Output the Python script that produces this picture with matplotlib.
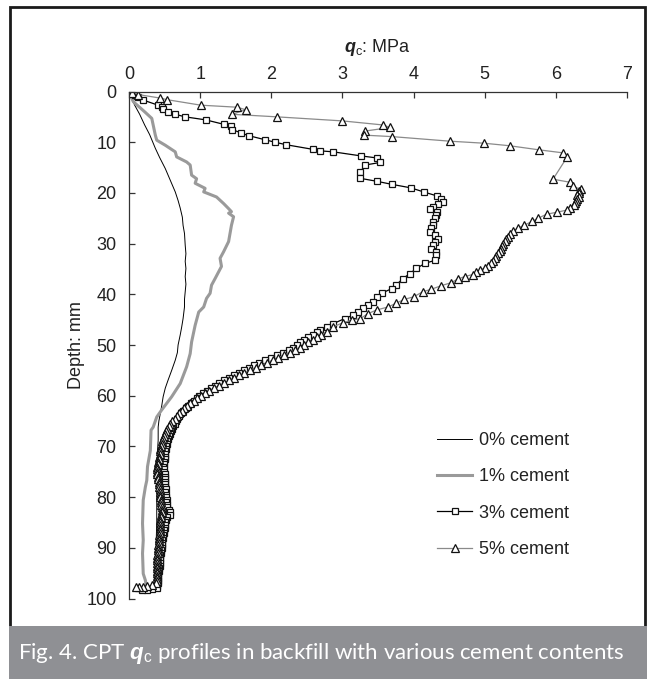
#!/usr/bin/env python
# -*- coding: utf-8 -*-

# -----------------------------------------------------------------------------
# Imports
# -----------------------------------------------------------------------------

import matplotlib
matplotlib.use("Agg")
import matplotlib.pyplot as plt
from matplotlib.patches import Rectangle

plt.rcParams['font.family'] = ['Liberation Sans', 'DejaVu Sans']
plt.rcParams['mathtext.fontset'] = 'custom'
plt.rcParams['mathtext.rm'] = 'Liberation Sans'
plt.rcParams['mathtext.it'] = 'Liberation Sans:italic'
plt.rcParams['mathtext.bf'] = 'Liberation Sans:bold'
plt.rcParams['mathtext.bfit'] = 'Liberation Sans:italic:bold'

# -----------------------------------------------------------------------------
# Data: depth in mm, q_c in MPa
# -----------------------------------------------------------------------------

labels = ["0% cement", "1% cement", "3% cement", "5% cement"]

depth0 = [0.0, 1.5, 2.7, 4.5, 6.6, 8.5, 11.2, 13.0, 15.2, 17.5,
          19.8, 21.5, 23.0, 24.8, 26.4, 28.0, 30.3, 32.0, 33.5, 34.9,
          36.5, 38.0, 39.5, 41.0, 42.5, 44.8, 46.5, 48.0, 50.0, 51.5,
          53.0, 55.0, 56.9, 58.5, 60.2, 62.0, 63.5, 65.0, 66.2, 68.8,
          71.0, 75.0, 80.0, 85.0, 90.0, 95.0, 97.5]
qc0 = [0.00, 0.04, 0.08, 0.15, 0.22, 0.29, 0.37, 0.43, 0.51, 0.58,
       0.65, 0.69, 0.72, 0.75, 0.76, 0.78, 0.79, 0.80, 0.79, 0.80,
       0.79, 0.80, 0.79, 0.78, 0.78, 0.76, 0.74, 0.72, 0.69, 0.68,
       0.65, 0.60, 0.55, 0.51, 0.48, 0.46, 0.44, 0.42, 0.41, 0.41,
       0.40, 0.40, 0.39, 0.39, 0.38, 0.38, 0.37]

depth1 = [0.0, 2.0, 4.0, 5.3, 8.6, 9.6, 10.6, 11.9, 12.9, 13.9,
          14.5, 16.5, 17.2, 18.1, 19.1, 19.8, 20.8, 22.1, 23.1, 23.7,
          24.0, 24.7, 26.4, 29.6, 31.6, 32.9, 34.5, 36.9, 38.2, 39.8,
          40.8, 42.5, 43.5, 46.1, 49.4, 51.7, 54.3, 57.6, 60.2, 62.8,
          64.2, 66.2, 66.8, 70.8, 74.0, 76.7, 78.0, 80.6, 85.2, 88.5,
          91.1, 95.1, 96.4, 97.3]
qc1 = [0.00, 0.06, 0.22, 0.32, 0.37, 0.39, 0.51, 0.65, 0.67, 0.81,
       0.86, 0.88, 0.95, 0.93, 1.07, 1.05, 1.23, 1.33, 1.40, 1.44,
       1.40, 1.47, 1.44, 1.40, 1.33, 1.28, 1.30, 1.21, 1.16, 1.14,
       1.09, 1.05, 0.98, 0.93, 0.88, 0.86, 0.81, 0.72, 0.60, 0.46,
       0.39, 0.34, 0.31, 0.30, 0.26, 0.25, 0.23, 0.20, 0.19, 0.20,
       0.19, 0.20, 0.23, 0.24]

depth3 = [0.0, 0.3, 0.6, 1.0, 1.7, 2.7, 3.0, 3.5, 4.0, 4.5,
          5.0, 5.6, 6.5, 6.9, 7.5, 8.2, 8.7, 9.5, 10.0, 10.5,
          11.4, 11.7, 11.9, 12.7, 13.1, 14.0, 14.5, 15.9, 17.1, 17.7,
          18.3, 19.0, 19.8, 20.6, 21.2, 21.7, 22.2, 22.7, 23.1, 23.7,
          24.3, 25.0, 25.7, 26.4, 27.0, 27.7, 28.3, 29.0, 29.6, 30.3,
          31.0, 31.6, 32.3, 33.3, 33.9, 34.9, 35.9, 36.9, 38.1, 38.9,
          39.8, 40.6, 41.5, 42.2, 42.8, 43.5, 44.1, 44.8, 45.8, 46.4,
          47.1, 47.5, 48.0, 48.5, 49.0, 49.5, 50.0, 50.5, 51.0, 51.5,
          52.0, 52.5, 53.0, 53.5, 54.0, 54.5, 55.0, 55.5, 56.0, 56.5,
          57.0, 57.5, 58.0, 58.5, 59.0, 59.5, 60.0, 60.5, 61.0, 61.5,
          62.0, 62.5, 63.0, 63.5, 64.0, 64.5, 65.0, 65.5, 66.0, 66.5,
          67.0, 67.5, 68.0, 68.5, 69.0, 69.5, 70.0, 70.5, 71.0, 71.5,
          72.0, 72.5, 73.0, 73.5, 74.0, 74.5, 75.0, 75.5, 76.0, 76.5,
          77.0, 77.5, 78.0, 78.5, 79.0, 79.5, 80.0, 80.5, 81.0, 81.5,
          82.0, 82.5, 83.0, 83.5, 84.0, 84.5, 85.0, 85.5, 86.0, 86.5,
          87.0, 87.5, 88.0, 88.5, 89.0, 89.5, 90.0, 90.5, 91.0, 91.5,
          92.0, 92.5, 93.0, 93.5, 94.0, 94.5, 95.0, 95.5, 96.0, 96.5,
          97.0, 97.5, 98.0, 98.2, 98.3, 98.3]
qc3 = [0.00, 0.04, 0.08, 0.13, 0.20, 0.41, 0.46, 0.48, 0.55, 0.65,
       0.79, 1.08, 1.34, 1.44, 1.45, 1.58, 1.68, 1.91, 2.05, 2.21,
       2.58, 2.68, 2.87, 3.26, 3.48, 3.53, 3.32, 3.25, 3.24, 3.48,
       3.69, 3.96, 4.14, 4.33, 4.38, 4.41, 4.35, 4.28, 4.23, 4.33,
       4.31, 4.30, 4.27, 4.28, 4.25, 4.23, 4.30, 4.35, 4.30, 4.28,
       4.25, 4.32, 4.31, 4.30, 4.16, 4.04, 3.95, 3.85, 3.76, 3.69,
       3.55, 3.49, 3.43, 3.36, 3.29, 3.22, 3.15, 3.03, 2.87, 2.78,
       2.68, 2.64, 2.58, 2.52, 2.46, 2.41, 2.36, 2.31, 2.25, 2.17,
       2.08, 2.00, 1.91, 1.83, 1.76, 1.68, 1.61, 1.54, 1.47, 1.40,
       1.34, 1.27, 1.21, 1.15, 1.09, 1.04, 0.99, 0.95, 0.91, 0.87,
       0.83, 0.80, 0.76, 0.73, 0.70, 0.68, 0.66, 0.64, 0.62, 0.60,
       0.59, 0.57, 0.56, 0.55, 0.54, 0.53, 0.52, 0.52, 0.51, 0.51,
       0.50, 0.50, 0.49, 0.49, 0.48, 0.49, 0.49, 0.50, 0.50, 0.50,
       0.51, 0.50, 0.51, 0.52, 0.51, 0.52, 0.52, 0.53, 0.52, 0.53,
       0.54, 0.56, 0.58, 0.57, 0.54, 0.52, 0.51, 0.51, 0.50, 0.49,
       0.49, 0.48, 0.48, 0.47, 0.47, 0.46, 0.46, 0.45, 0.45, 0.44,
       0.44, 0.44, 0.43, 0.43, 0.42, 0.42, 0.41, 0.41, 0.41, 0.41,
       0.41, 0.40, 0.40, 0.33, 0.25, 0.18]

depth5 = [0.0, 0.2, 0.6, 1.3, 1.6, 2.7, 3.1, 3.6, 4.5, 5.0,
          5.8, 6.6, 7.1, 7.8, 8.6, 8.9, 9.8, 10.2, 10.7, 11.5,
          12.1, 12.9, 17.3, 17.9, 18.7, 19.3, 19.7, 20.1, 20.5, 20.9,
          21.3, 21.6, 22.0, 22.4, 23.0, 23.4, 23.8, 24.2, 25.0, 25.6,
          26.4, 26.9, 27.5, 28.2, 28.6, 29.0, 29.5, 30.0, 30.5, 31.0,
          31.5, 31.9, 32.4, 32.9, 33.4, 33.9, 34.4, 34.8, 35.2, 35.7,
          36.1, 36.5, 37.0, 37.7, 38.3, 39.0, 39.5, 40.5, 41.0, 41.8,
          42.5, 43.1, 43.8, 44.8, 45.1, 45.6, 46.4, 47.4, 48.0, 48.5,
          49.0, 49.5, 50.0, 50.5, 51.0, 51.5, 52.0, 52.5, 53.0, 53.5,
          54.0, 54.5, 55.0, 55.5, 56.0, 56.5, 57.0, 57.5, 58.0, 58.5,
          59.0, 59.5, 60.0, 60.5, 61.0, 61.5, 62.0, 62.5, 63.0, 63.5,
          64.0, 64.5, 65.0, 65.5, 66.0, 66.5, 67.0, 67.5, 68.0, 68.5,
          69.0, 69.5, 70.0, 70.5, 71.0, 71.5, 72.0, 72.5, 73.0, 73.5,
          74.0, 74.5, 75.0, 75.5, 76.0, 76.5, 77.0, 77.5, 78.0, 78.5,
          79.0, 79.5, 80.0, 80.5, 81.0, 81.5, 82.0, 82.5, 83.0, 83.5,
          84.0, 84.5, 85.0, 85.5, 86.0, 86.5, 87.0, 87.5, 88.0, 88.5,
          89.0, 89.5, 90.0, 90.5, 91.0, 91.5, 92.0, 92.5, 93.0, 93.5,
          94.0, 94.5, 95.0, 95.5, 96.0, 96.5, 97.0, 97.4, 97.6, 97.7,
          97.8, 97.8]
qc5 = [0.00, 0.04, 0.13, 0.44, 0.53, 1.01, 1.52, 1.64, 1.45, 2.08,
       3.00, 3.57, 3.67, 3.32, 3.30, 3.70, 4.51, 4.99, 5.35, 5.76,
       6.10, 6.16, 5.96, 6.20, 6.24, 6.35, 6.33, 6.32, 6.30, 6.33,
       6.30, 6.29, 6.27, 6.25, 6.20, 6.15, 6.02, 5.87, 5.75, 5.67,
       5.55, 5.47, 5.40, 5.35, 5.33, 5.30, 5.28, 5.26, 5.24, 5.23,
       5.21, 5.19, 5.16, 5.14, 5.11, 5.09, 5.04, 5.00, 4.94, 4.88,
       4.83, 4.72, 4.62, 4.53, 4.39, 4.25, 4.13, 4.00, 3.87, 3.75,
       3.64, 3.48, 3.36, 3.25, 3.13, 3.01, 2.87, 2.78, 2.70, 2.64,
       2.58, 2.52, 2.46, 2.40, 2.33, 2.26, 2.18, 2.10, 2.02, 1.94,
       1.86, 1.78, 1.70, 1.62, 1.55, 1.47, 1.40, 1.33, 1.26, 1.19,
       1.13, 1.07, 1.01, 0.96, 0.91, 0.86, 0.82, 0.78, 0.74, 0.70,
       0.67, 0.64, 0.61, 0.58, 0.56, 0.54, 0.52, 0.50, 0.49, 0.48,
       0.47, 0.46, 0.45, 0.44, 0.43, 0.43, 0.42, 0.42, 0.41, 0.41,
       0.40, 0.40, 0.40, 0.40, 0.41, 0.41, 0.42, 0.42, 0.42, 0.43,
       0.43, 0.44, 0.44, 0.45, 0.45, 0.45, 0.46, 0.46, 0.46, 0.45,
       0.45, 0.44, 0.44, 0.44, 0.43, 0.43, 0.43, 0.42, 0.42, 0.42,
       0.42, 0.41, 0.41, 0.41, 0.41, 0.40, 0.40, 0.40, 0.40, 0.40,
       0.39, 0.39, 0.39, 0.39, 0.39, 0.39, 0.38, 0.32, 0.26, 0.20,
       0.14, 0.10]

xticks = [0, 1, 2, 3, 4, 5, 6, 7]
yticks = [0, 10, 20, 30, 40, 50, 60, 70, 80, 90, 100]

# -----------------------------------------------------------------------------
# Plot
# -----------------------------------------------------------------------------

W, H = 651, 680
fig = plt.figure(figsize = (W / 100, H / 100), dpi = 100)
ax = fig.add_axes([129 / W, 1 - 598.5 / H, (627 - 129) / W, (598.5 - 91.5) / H])

ax.plot(qc0, depth0, color = "black", lw = 0.7, label = labels[0])
ax.plot(qc1, depth1, color = "#9a9a9a", lw = 2.2, label = labels[1])
ax.plot(qc3, depth3, color = "black", lw = 0.9, marker = "s", ms = 4.6,
        mfc = "white", mec = "#111111", mew = 0.9, label = labels[2])
ax.plot(qc5, depth5, color = "#8a8a8a", lw = 0.9, marker = "^", ms = 5.8,
        mfc = "white", mec = "#111111", mew = 0.9, label = labels[3])

ax.set_xlim(0, 7)
ax.set_ylim(100, 0)
ax.set_xticks(xticks)
ax.set_yticks(yticks)
ax.xaxis.tick_top()
ax.xaxis.set_label_position("top")
for side in ["right", "bottom"]:
    ax.spines[side].set_visible(False)
for side in ["top", "left"]:
    ax.spines[side].set_color("#333333")
    ax.spines[side].set_linewidth(0.9)
ax.tick_params(direction = "in", length = 4, width = 0.9, color = "#333333",
               labelsize = 13, labelcolor = "#222222")
ax.tick_params(axis = "x", pad = 6)
ax.tick_params(axis = "y", pad = 9)
ax.set_xlabel(r"$\mathbfit{q}_{\mathrm{c}}$: MPa", fontsize = 13, color = "#222222", labelpad = 10)
ax.set_ylabel("Depth: mm", fontsize = 13, color = "#222222", labelpad = 1)

ax.legend(loc = "upper left", bbox_to_anchor = (437 / W, 1 - 432 / H),
          bbox_transform = fig.transFigure, frameon = False, fontsize = 13,
          handlelength = 1.95, handletextpad = 0.35, labelspacing = 1.07,
          borderpad = 0, borderaxespad = 0, labelcolor = "#222222")

# frame and caption band
fig.patches.append(Rectangle((10 / W, 1 - 627 / H), 635 / W, 620 / H, transform = fig.transFigure,
                             fill = False, edgecolor = "#1a1a1a", lw = 2.0))
fig.patches.append(Rectangle((8.5 / W, 1 - 679 / H), 638 / W, 53 / H, transform = fig.transFigure,
                             facecolor = "#8f9094", edgecolor = "none"))
fig.text(18 / W, 1 - 653 / H,
         r"Fig. 4. CPT $\mathbfit{q}_{\mathrm{c}}$ profiles in backfill with various cement contents",
         family = "Lato", fontsize = 16, color = "white", va = "center", ha = "left")

fig.savefig("out.png", dpi = 100)
